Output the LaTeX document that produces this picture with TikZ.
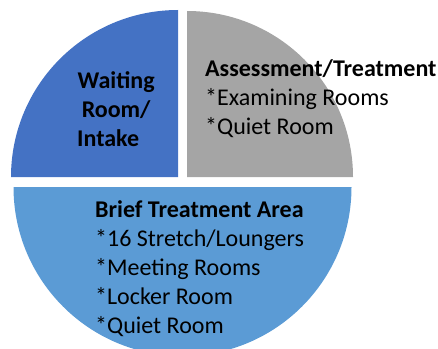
\documentclass[tikz,border=0pt]{standalone}
\usepackage{fontspec}
\setmainfont{Carlito}
\usetikzlibrary{positioning}
\definecolor{pieblue}{HTML}{4472C4}
\definecolor{piegray}{HTML}{A5A5A5}
\definecolor{pielight}{HTML}{5B9BD5}

\begin{document}
\begin{tikzpicture}[x=1bp,y=1bp,
  lbl/.style={inner sep=0pt,align=left,anchor=base west,font=\fontsize{24bp}{29bp}\selectfont,text=black}]
  \useasboundingbox (0,0) rectangle (438,348);
  \begin{scope}
    \clip (0,0) rectangle (438,348);
    % the three slices, pulled apart
    \fill[pieblue] (178,171) -- (11,171) arc[start angle=180,end angle=90,radius=167] -- cycle;
    \fill[piegray] (187,171) -- (187,337) arc[start angle=90,end angle=0,radius=166] -- cycle;
    \fill[pielight] (13.5,161) arc[start angle=180,end angle=360,radius=169] -- cycle;
  \end{scope}
  % anchor is the baseline of the last line
  \node[lbl,align=center,font=\fontsize{24bp}{29bp}\selectfont\bfseries] (wait) at (77,202) {Waiting\\Room/\\Intake\hspace*{16bp}};
  \node[lbl] (assess) at (205,214) {\textbf{Assessment/Treatment}\\*Examining Rooms\\*Quiet Room};
  \node[lbl] (brief) at (95,15) {\textbf{Brief Treatment Area}\\*16 Stretch/Loungers\\*Meeting Rooms\\*Locker Room\\*Quiet Room};
\end{tikzpicture}
\end{document}
